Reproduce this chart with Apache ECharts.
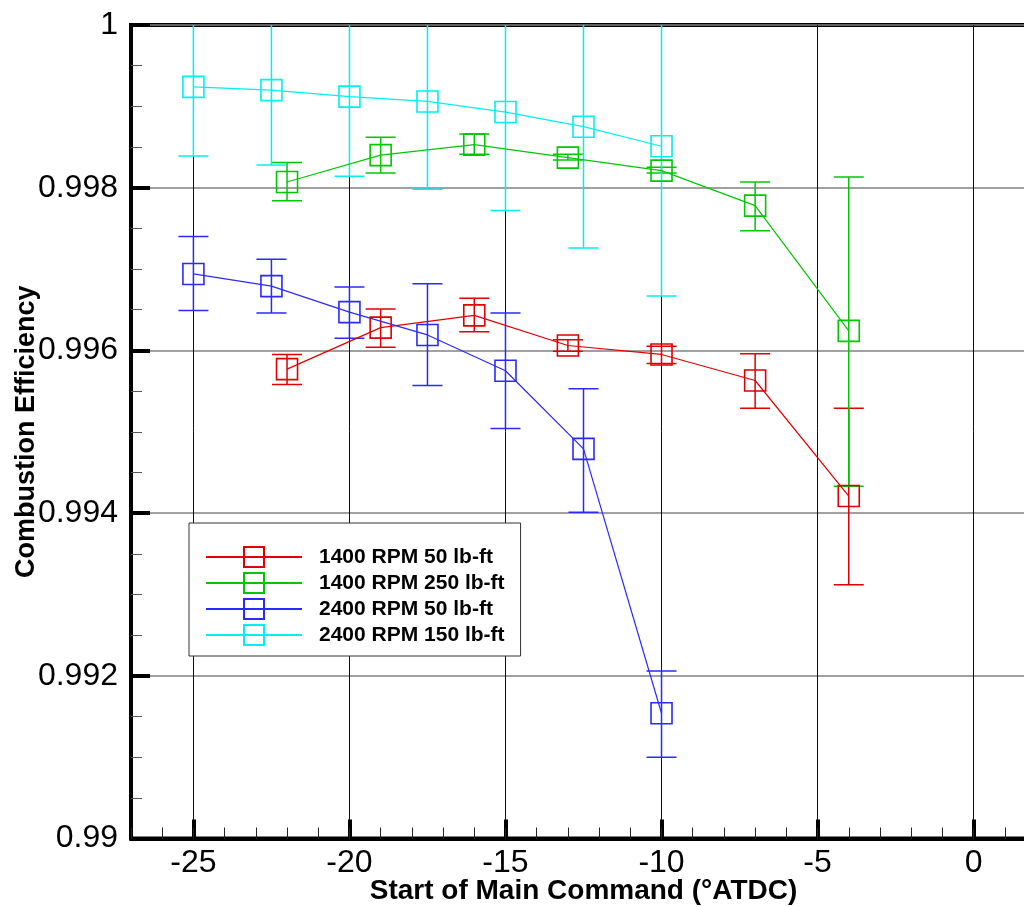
<!DOCTYPE html>
<html>
<head>
<meta charset="utf-8">
<script src="https://cdn.jsdelivr.net/npm/echarts@6/dist/echarts.min.js"></script>
<style>
html,body{margin:0;padding:0;background:#fff;}
#chart{width:1024px;height:907px;}
</style>
</head>
<body>
<div id="chart"></div>
<script>
// ---- data ----
const seriesNames = ['1400 RPM 50 lb-ft', '1400 RPM 250 lb-ft', '2400 RPM 50 lb-ft', '2400 RPM 150 lb-ft'];

const xRed = [-22, -19, -16, -13, -10, -7, -4];
const yRed = [0.99577, 0.99628, 0.99643, 0.99606, 0.99595, 0.99563, 0.99421];
const loRed = [0.99558, 0.99604, 0.99623, 0.99599, 0.99584, 0.99529, 0.99312];
const hiRed = [0.99595, 0.99651, 0.99664, 0.99613, 0.99605, 0.99596, 0.99529];

const xGreen = [-22, -19, -16, -13, -10, -7, -4];
const yGreen = [0.99807, 0.99840, 0.99853, 0.99837, 0.99821, 0.99778, 0.99624];
const loGreen = [0.99784, 0.99818, 0.99841, 0.99834, 0.99818, 0.99747, 0.99433];
const hiGreen = [0.99831, 0.99862, 0.99866, 0.99841, 0.99825, 0.99807, 0.99813];

const xBlue = [-25, -22.5, -20, -17.5, -15, -12.5, -10];
const yBlue = [0.99694, 0.99679, 0.99647, 0.99619, 0.99575, 0.99479, 0.99154];
const loBlue = [0.99649, 0.99646, 0.99615, 0.99557, 0.99504, 0.99401, 0.99100];
const hiBlue = [0.99740, 0.99712, 0.99678, 0.99682, 0.99646, 0.99553, 0.99206];

const xCyan = [-25, -22.5, -20, -17.5, -15, -12.5, -10];
const yCyan = [0.99924, 0.99920, 0.99912, 0.99906, 0.99893, 0.99875, 0.99851];
const loCyan = [0.99839, 0.99828, 0.99814, 0.99798, 0.99772, 0.99726, 0.99667];
const hiCyan = [1.00008, 1.00013, 1.00010, 1.00013, 1.00015, 1.00024, 1.00035];

const xMajorTicks = [-25, -20, -15, -10, -5, 0];
const yTickLabels = ['0.99', '0.992', '0.994', '0.996', '0.998', '1'];

const colors = ['#e00000', '#00c800', '#2a2aff', '#00f0f0'];

// ---- build ----
const FONT = '"Liberation Sans", Arial, Helvetica, sans-serif';
const groups = [
  [xRed, yRed, loRed, hiRed],
  [xGreen, yGreen, loGreen, hiGreen],
  [xBlue, yBlue, loBlue, hiBlue],
  [xCyan, yCyan, loCyan, hiCyan]
];

function makeErrRender(color) {
  return function (params, api) {
    const x = api.value(0), lo = api.value(1), hi = api.value(2);
    const pLo = api.coord([x, lo]);
    const pHi = api.coord([x, hi]);
    const hw = 15;
    const style = { stroke: color, lineWidth: 1.5, fill: null };
    const cs = params.coordSys;
    return {
      type: 'group',
      clipPath: { type: 'rect', shape: { x: cs.x, y: cs.y, width: cs.width, height: cs.height } },
      children: [
        { type: 'line', shape: { x1: pLo[0], y1: pLo[1], x2: pHi[0], y2: pHi[1] }, style: style },
        { type: 'line', shape: { x1: pLo[0] - hw, y1: pLo[1], x2: pLo[0] + hw, y2: pLo[1] }, style: style },
        { type: 'line', shape: { x1: pHi[0] - hw, y1: pHi[1], x2: pHi[0] + hw, y2: pHi[1] }, style: style }
      ]
    };
  };
}

const series = [];
groups.forEach((g, i) => {
  const [xs, ys] = g;
  series.push({
    name: seriesNames[i],
    type: 'line',
    xAxisIndex: 0,
    yAxisIndex: 0,
    z: 4,
    data: xs.map((x, k) => [x, ys[k]]),
    symbol: 'rect',
    symbolSize: 21,
    showAllSymbol: true,
    lineStyle: { color: colors[i], width: 1.2 },
    itemStyle: { color: 'rgba(255,255,255,0)', borderColor: colors[i], borderWidth: 1.6 },
    emphasis: { disabled: true },
    silent: true
  });
});
groups.forEach((g, i) => {
  const [xs, ys, los, his] = g;
  series.push({
    name: seriesNames[i] + ' error',
    type: 'custom',
    xAxisIndex: 0,
    yAxisIndex: 0,
    clip: true,
    silent: true,
    z: 3,
    renderItem: makeErrRender(colors[i]),
    data: xs.map((x, k) => [x, los[k], his[k]])
  });
});

const chart = echarts.init(document.getElementById('chart'), null, { renderer: 'canvas' });
chart.setOption({
  animation: false,
  backgroundColor: '#fff',
  grid: {
    left: 131, top: 25, width: 905, bottom: 68.5,
    outerBoundsMode: 'none',
    containLabel: false,
    show: true, borderColor: '#000', borderWidth: 4, backgroundColor: 'transparent'
  },
  legend: {
    data: seriesNames,
    orient: 'vertical',
    left: 189,
    top: 523,
    padding: [23, 16, 10, 16],
    itemWidth: 96,
    itemHeight: 25,
    itemGap: 4,
    selectedMode: false,
    backgroundColor: '#fff',
    borderColor: '#333',
    borderWidth: 1,
    textStyle: { fontFamily: FONT, fontSize: 21, fontWeight: 'bold', color: '#000', padding: [0, 0, 0, 12] }
  },
  xAxis: [
    {
      type: 'value',
      min: -27, max: 2,
      position: 'bottom',
      name: 'Start of Main Command (°ATDC)',
      nameLocation: 'middle',
      nameGap: 39,
      nameMoveOverlap: false,
      nameTextStyle: { fontFamily: FONT, fontSize: 28, fontWeight: 'bold', color: '#000' },
      axisLine: { show: true, onZero: false, lineStyle: { color: '#000', width: 4 } },
      axisTick: { show: true, inside: true, length: 19, customValues: xMajorTicks, lineStyle: { color: '#000', width: 4 } },
      axisLabel: {
        show: true, margin: 9, customValues: xMajorTicks,
        fontFamily: FONT, fontSize: 32, color: '#000',
        formatter: function (v) { return xMajorTicks.indexOf(v) >= 0 ? String(v) : ''; }
      },
      splitLine: { show: true, lineStyle: { color: '#111', width: 1 } },
      minorTick: { show: false }
    },
    {
      type: 'value',
      min: -27, max: 2, interval: 1,
      position: 'bottom',
      axisLine: { show: false, onZero: false },
      axisTick: { show: true, inside: true, length: 11, lineStyle: { color: '#222', width: 1 } },
      axisLabel: { show: false },
      splitLine: { show: false }
    }
  ],
  yAxis: [
    {
      type: 'value',
      min: 0.99, max: 1.0, interval: 0.002,
      name: 'Combustion Efficiency',
      nameLocation: 'middle',
      nameGap: 91,
      nameMoveOverlap: false,
      nameTextStyle: { fontFamily: FONT, fontSize: 27, fontWeight: 'bold', color: '#000' },
      axisLine: { show: true, onZero: false, lineStyle: { color: '#000', width: 4 } },
      axisTick: { show: true, inside: true, length: 19, lineStyle: { color: '#000', width: 4 } },
      minorTick: { show: true, splitNumber: 4, length: 11, lineStyle: { color: '#555', width: 1 } },
      axisLabel: {
        fontFamily: FONT, fontSize: 32, color: '#000', margin: 13,
        formatter: function (v) {
          const idx = Math.round((v - 0.99) / 0.002);
          return yTickLabels[idx] !== undefined ? yTickLabels[idx] : '';
        }
      },
      splitLine: { show: true, lineStyle: { color: '#808080', width: 1.5 } }
    }
  ],
  series: series
});
</script>
</body>
</html>
